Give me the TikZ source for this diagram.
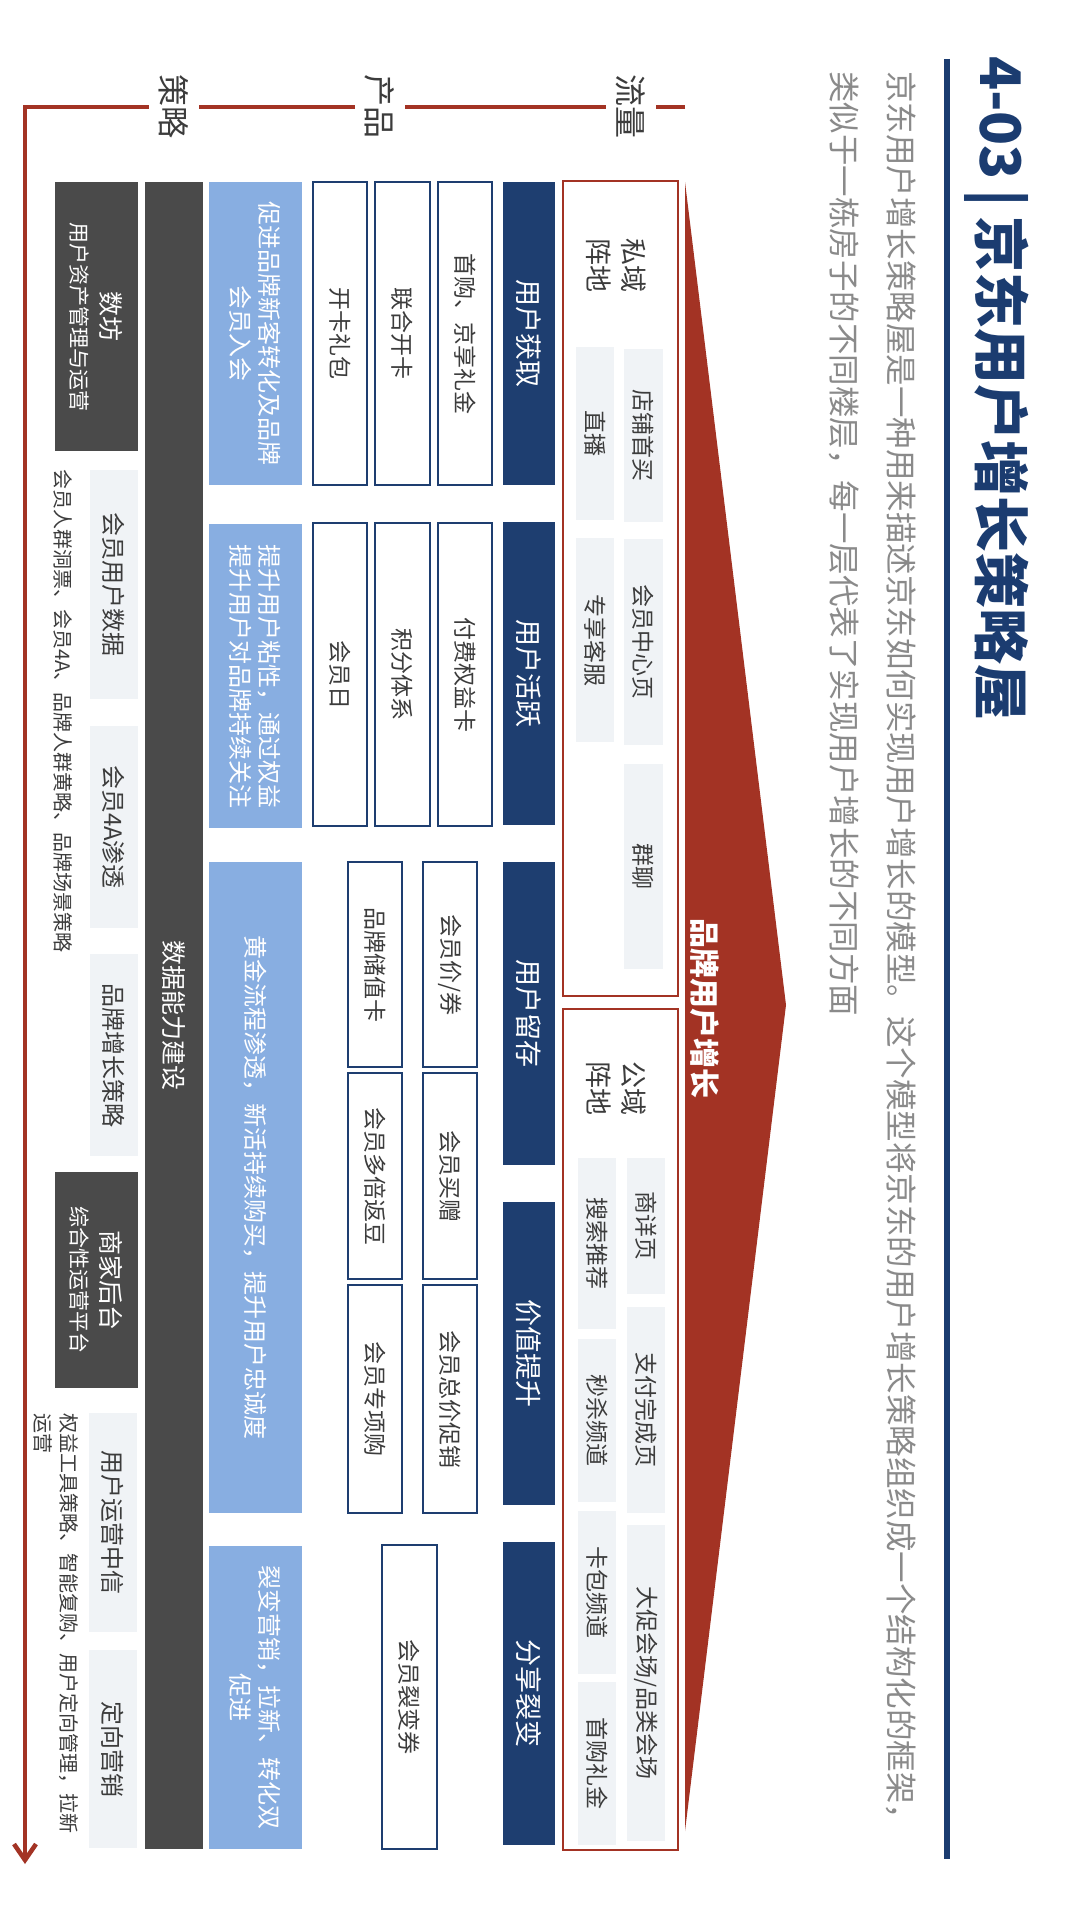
\documentclass[tikz,border=0pt]{standalone}
\usepackage{fontspec}
\setmainfont{Noto Sans CJK SC}
\usetikzlibrary{arrows.meta}
\definecolor{navy}{RGB}{30,62,112}
\definecolor{titlenavy}{RGB}{27,60,112}
\definecolor{hred}{RGB}{163,51,36}
\definecolor{lblue}{RGB}{136,174,225}
\definecolor{dgray}{RGB}{74,74,74}
\definecolor{lgray}{RGB}{240,243,246}
\definecolor{subgray}{RGB}{138,138,138}
\definecolor{txt}{RGB}{60,60,60}
\newcommand{\RB}[7]{%
  \pgfmathsetmacro{\rbw}{(#6)-(#4)}%
  \pgfmathsetmacro{\rbh}{(#5)-(#3)}%
  \pgfmathsetmacro{\rbx}{((#3)+(#5))/2}%
  \pgfmathsetmacro{\rby}{((#4)+(#6))/2}%
  \node[#2, rotate=-90, minimum width=\rbw pt, minimum height=\rbh pt] (#1) at (\rbx,\rby) {#7};%
}
\tikzset{
  navyblk/.style={fill=navy, text=white, font=\fontsize{27}{32}\selectfont, inner sep=0pt},
  prodbox/.style={draw=navy, line width=2pt, fill=white, text=txt, font=\fontsize{23}{28}\selectfont, inner sep=0pt},
  graybox/.style={fill=lgray, text=txt, font=\fontsize{23}{28}\selectfont, inner sep=0pt},
  stratbox/.style={fill=lgray, text=txt, font=\fontsize{24}{28}\selectfont, inner sep=0pt},
  bluebox/.style={fill=lblue, text=white, align=center, font=\fontsize{24}{29}\selectfont, inner sep=0pt},
  darkbox/.style={fill=dgray, text=white, align=center, font=\fontsize{21}{30}\selectfont, inner sep=0pt},
  redbox/.style={draw=hred, line width=2pt, fill=white, inner sep=0pt},
  floorlbl/.style={fill=white, text=txt, font=\fontsize{32}{36}\selectfont, inner sep=10pt, rotate=-90},
  subtxt/.style={rotate=-90, inner sep=0pt, text=subgray, font=\fontsize{31.5}{36}\selectfont},
  arealbl/.style={rotate=-90, align=center, text=txt, font=\fontsize{27}{35}\selectfont, inner sep=0pt},
  notetxt/.style={rotate=-90, align=left, text=txt, font=\fontsize{20}{26}\selectfont, inner sep=0pt},
}
\begin{document}
\begin{tikzpicture}[x=1pt,y=-1pt]
\fill[white] (0,0) rectangle (1080,1916);
\useasboundingbox (0,0) rectangle (1080,1916);

% ---------- title ----------
\draw[titlenavy, line width=6pt] (947,59) -- (947,1859);
\node[rotate=-90, anchor=west, inner sep=0pt, text=titlenavy, font=\bfseries\fontsize{56}{60}\selectfont] (title) at (997,56) {4-03\,|\,京东用户增长策略屋};
\node[subtxt, anchor=west] (sub1) at (901,71) {京东用户增长策略屋是一种用来描述京东如何实现用户增长的模型。这个模型将京东的用户增长策略组织成一个结构化的框架，};
\node[subtxt, anchor=west] (sub2) at (844,71) {类似于一栋房子的不同楼层，每一层代表了实现用户增长的不同方面};

% ---------- roof arrow ----------
\fill[hred] (685,182) -- (786,1005) -- (685,1831) -- cycle;
\node[rotate=-90, text=white, font=\bfseries\fontsize{30}{34}\selectfont, inner sep=0pt] (growth) at (705,1008) {品牌用户增长};

% ---------- traffic areas ----------
\RB{priv}{redbox}{563}{181}{678}{996}{}
\RB{pub}{redbox}{563}{1009}{678}{1850}{}
\node[arealbl] (privlbl) at (616,265) {私域\\阵地};
\node[arealbl] (publbl) at (616,1088) {公域\\阵地};

\RB{g1}{graybox}{624}{349}{663}{522}{店铺首买}
\RB{g2}{graybox}{576}{347}{614}{520}{直播}
\RB{g3}{graybox}{624}{539}{663}{745}{会员中心页}
\RB{g4}{graybox}{576}{538}{614}{742}{专享客服}
\RB{g5}{graybox}{624}{764}{663}{969}{群聊}

\RB{g6}{graybox}{627}{1158}{665}{1294}{商详页}
\RB{g7}{graybox}{627}{1307}{665}{1513}{支付完成页}
\RB{g8}{graybox}{627}{1525}{665}{1841}{大促会场/品类会场}
\RB{g9}{graybox}{578}{1158}{616}{1329}{搜索推荐}
\RB{g10}{graybox}{578}{1339}{616}{1502}{秒杀频道}
\RB{g11}{graybox}{578}{1511}{616}{1674}{卡包频道}
\RB{g12}{graybox}{578}{1682}{616}{1845}{首购礼金}

% ---------- stage headers ----------
\RB{n1}{navyblk}{503}{182}{555}{485}{用户获取}
\RB{n2}{navyblk}{503}{522}{555}{825}{用户活跃}
\RB{n3}{navyblk}{503}{862}{555}{1165}{用户留存}
\RB{n4}{navyblk}{503}{1202}{555}{1505}{价值提升}
\RB{n5}{navyblk}{503}{1542}{555}{1845}{分享裂变}

% ---------- products ----------
\RB{p1}{prodbox}{438}{182}{492}{485}{首购、京享礼金}
\RB{p2}{prodbox}{375}{182}{430}{485}{联合开卡}
\RB{p3}{prodbox}{313}{182}{367}{485}{开卡礼包}
\RB{p4}{prodbox}{438}{523}{492}{826}{付费权益卡}
\RB{p5}{prodbox}{375}{523}{430}{826}{积分体系}
\RB{p6}{prodbox}{313}{523}{367}{826}{会员日}
\RB{p7}{prodbox}{423}{862}{477}{1067}{会员价/券}
\RB{p8}{prodbox}{348}{862}{402}{1067}{品牌储值卡}
\RB{p9}{prodbox}{423}{1073}{477}{1279}{会员买赠}
\RB{p10}{prodbox}{348}{1073}{402}{1279}{会员多倍返豆}
\RB{p11}{prodbox}{423}{1285}{477}{1513}{会员总价促销}
\RB{p12}{prodbox}{348}{1285}{402}{1513}{会员专项购}
\RB{p13}{prodbox}{382}{1545}{437}{1849}{会员裂变券}

% ---------- goals ----------
\RB{b1}{bluebox}{209}{182}{302}{485}{促进品牌新客转化及品牌\\会员入会}
\RB{b2}{bluebox}{209}{524}{302}{828}{提升用户粘性，通过权益\\提升用户对品牌持续关注}
\RB{b3}{bluebox}{209}{862}{302}{1513}{黄金流程渗透，新活持续购买，提升用户忠诚度}
\RB{b4}{bluebox}{209}{1546}{302}{1849}{裂变营销，拉新、转化双\\促进}

% ---------- data capability ----------
\RB{data}{darkbox}{145}{182}{203}{1849}{\fontsize{25}{30}\selectfont 数据能力建设}

% ---------- strategy ----------
\RB{s1}{darkbox}{55}{182}{138}{451}{{\fontsize{25}{30}\selectfont 数坊}\\用户资产管理与运营}
\RB{s2}{stratbox}{90}{470}{138}{699}{会员用户数据}
\RB{s3}{stratbox}{90}{726}{138}{928}{会员4A渗透}
\RB{s4}{stratbox}{90}{954}{138}{1156}{品牌增长策略}
\node[notetxt, anchor=west] (note1) at (63,469) {会员人群洞票、会员4A、品牌人群黄略、品牌场景策略};
\RB{s5}{darkbox}{55}{1172}{138}{1388}{{\fontsize{25}{30}\selectfont 商家后台}\\综合性运营平台}
\RB{s6}{stratbox}{89}{1413}{137}{1632}{用户运营中信}
\RB{s7}{stratbox}{89}{1650}{137}{1848}{定向营销}
\node[notetxt, anchor=west] (note2) at (56,1413) {权益工具策略、智能复购、用户定向管理，拉新\\运营};

% ---------- floor line ----------
\coordinate (fl0) at (685,107);
\coordinate (fl1) at (25,107);
\coordinate (fl2) at (25,1864);
\draw[hred, line width=4.5pt, -{Straight Barb[length=16pt,width=22pt]}] (fl0) -- (fl1) -- (fl2);
\node[floorlbl] (lflow) at (631,107) {流量};
\node[floorlbl] (lprod) at (380,107) {产品};
\node[floorlbl] (lstrat) at (174,107) {策略};
\end{tikzpicture}
\end{document}
